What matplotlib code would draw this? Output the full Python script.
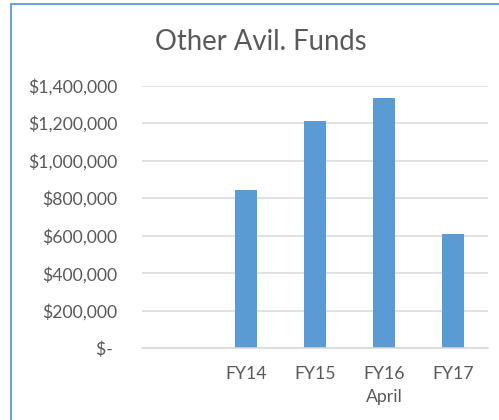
import matplotlib
matplotlib.use("Agg")
import matplotlib.pyplot as plt
from matplotlib.patches import Rectangle

categories = ["", "FY14", "FY15", "FY16\nApril", "FY17"]
values = [0, 843000, 1212000, 1331000, 610000]
yticks = [0, 200000, 400000, 600000, 800000, 1000000, 1200000, 1400000]
ytick_labels = ["$- ", "$200,000", "$400,000", "$600,000", "$800,000",
                "$1,000,000", "$1,200,000", "$1,400,000"]
title = "Other Avil. Funds"

plt.rcParams['font.family'] = ['Lato', 'DejaVu Sans']
W, H = 499, 420
fig = plt.figure(figsize=(W / 100, H / 100), dpi=100)
fig.patch.set_facecolor("white")

# chart border (light blue, left and top visible)
fig.patches.append(Rectangle((10.5 / W, -0.1), 1.2, 1 - 4.5 / H + 0.1,
                             transform=fig.transFigure, fill=False,
                             edgecolor="#5B9BD5", linewidth=1.3))

left, right = 142 / W, 487.7 / W
bottom, top = 1 - 348.3 / H, 1 - 85.5 / H
ax = fig.add_axes([left, bottom, right - left, top - bottom])

x = list(range(len(categories)))
ax.bar(x, values, width=0.314, color="#5B9BD5", zorder=3)
ax.set_xlim(-0.5, len(categories) - 0.5)
ax.set_ylim(0, 1400000)
ax.set_yticks(yticks)
ax.set_yticklabels(ytick_labels)
ax.set_xticks(x)
ax.set_xticklabels(categories, linespacing=1.5)
ax.yaxis.grid(True, color="#D9D9D9", linewidth=1.1, zorder=0)
for s in ["left", "right", "top"]:
    ax.spines[s].set_visible(False)
ax.spines["bottom"].set_color("#D9D9D9")
ax.spines["bottom"].set_linewidth(1.1)
ax.spines["bottom"].set_zorder(4)
ax.tick_params(axis="both", length=0, colors="#595959", labelsize=12.7)
ax.tick_params(axis="y", pad=17.5)
ax.tick_params(axis="x", pad=13)
ax.set_facecolor("white")

fig.text(0.522, 1 - 42 / H, title, ha="center", va="center",
         fontsize=19.8, color="#595959")

fig.savefig("out.png", dpi=100)
